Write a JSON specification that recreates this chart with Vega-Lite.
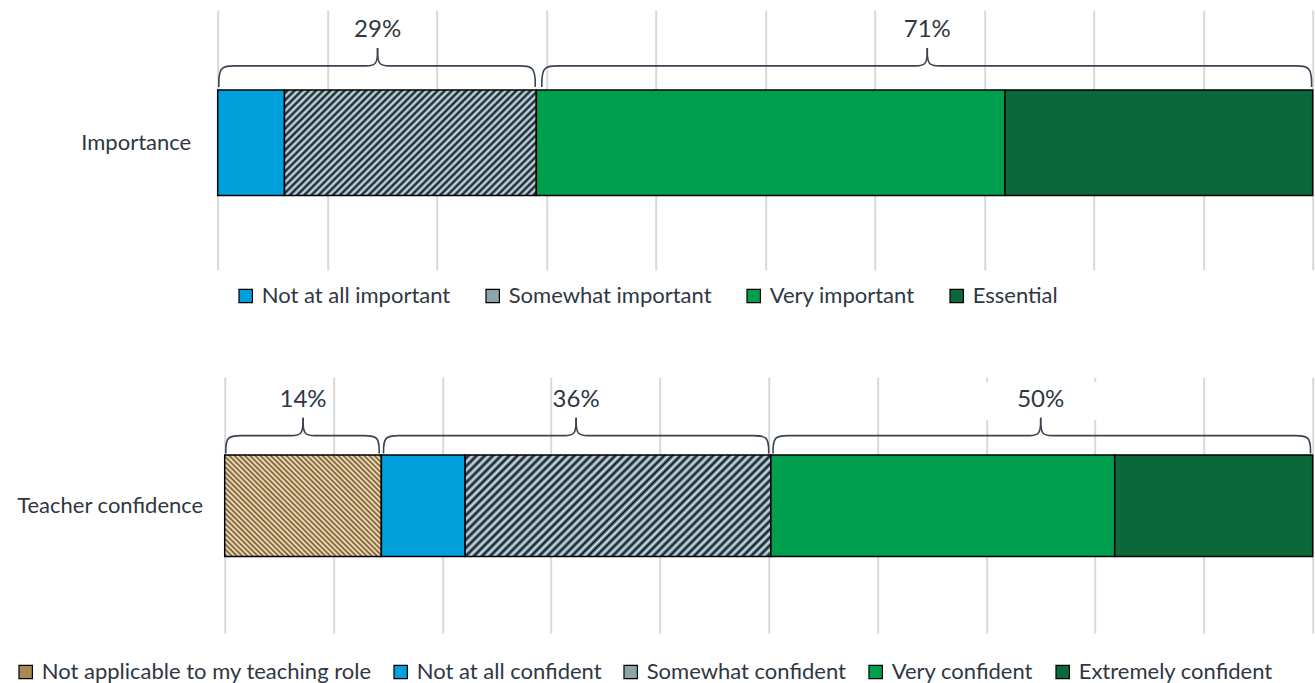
{
"$schema":"https://vega.github.io/schema/vega-lite/v6.json",
"autosize":{"type":"none"},
"padding":{"left":217.7,"top":10,"right":1097.3,"bottom":673},
"bounds":"flush",
"spacing":107,
"config":{"view":{"stroke":null},"font":"Lato","text":{"font":"Lato"},
"axisX":{"grid":true,"gridColor":"#D9D9D9","gridWidth":2,"labels":false,"ticks":false,"domain":false,"title":null}},
"datasets":{
"imp":[
{"question":"Importance","category":"Not at all important","value":6.1,"o":1},
{"question":"Importance","category":"Somewhat important","value":23.0,"o":2},
{"question":"Importance","category":"Very important","value":42.8,"o":3},
{"question":"Importance","category":"Essential","value":28.1,"o":4}
],
"conf":[
{"question":"Teacher confidence","category":"Not applicable to my teaching role","value":14.4,"o":1},
{"question":"Teacher confidence","category":"Not at all confident","value":7.7,"o":2},
{"question":"Teacher confidence","category":"Somewhat confident","value":28.1,"o":3},
{"question":"Teacher confidence","category":"Very confident","value":31.6,"o":4},
{"question":"Teacher confidence","category":"Extremely confident","value":18.2,"o":5}
],
"bracesTop":[
{"g":"a","o":1,"x":0.1,"y":70.4},{"g":"a","o":2,"x":0.1,"y":78.5},{"g":"a","o":3,"x":1.5,"y":78.5},{"g":"a","o":4,"x":2.9,"y":78.5},{"g":"a","o":5,"x":12.4,"y":78.5},{"g":"a","o":6,"x":13.5,"y":78.5},{"g":"a","o":7,"x":14.6,"y":78.5},{"g":"a","o":8,"x":14.6,"y":85.4},
{"g":"b","o":1,"x":29.0,"y":70.4},{"g":"b","o":2,"x":29.0,"y":78.5},{"g":"b","o":3,"x":27.6,"y":78.5},{"g":"b","o":4,"x":26.2,"y":78.5},{"g":"b","o":5,"x":16.8,"y":78.5},{"g":"b","o":6,"x":15.7,"y":78.5},{"g":"b","o":7,"x":14.6,"y":78.5},{"g":"b","o":8,"x":14.6,"y":85.4},
{"g":"c","o":1,"x":29.6,"y":70.4},{"g":"c","o":2,"x":29.6,"y":78.5},{"g":"c","o":3,"x":31.0,"y":78.5},{"g":"c","o":4,"x":32.4,"y":78.5},{"g":"c","o":5,"x":62.6,"y":78.5},{"g":"c","o":6,"x":63.7,"y":78.5},{"g":"c","o":7,"x":64.8,"y":78.5},{"g":"c","o":8,"x":64.8,"y":85.4},
{"g":"d","o":1,"x":99.9,"y":70.4},{"g":"d","o":2,"x":99.9,"y":78.5},{"g":"d","o":3,"x":98.5,"y":78.5},{"g":"d","o":4,"x":97.1,"y":78.5},{"g":"d","o":5,"x":67.0,"y":78.5},{"g":"d","o":6,"x":65.9,"y":78.5},{"g":"d","o":7,"x":64.8,"y":78.5},{"g":"d","o":8,"x":64.8,"y":85.4}
],
"bracesBot":[
{"g":"a","o":1,"x":0.1,"y":70.1},{"g":"a","o":2,"x":0.1,"y":77.1},{"g":"a","o":3,"x":1.5,"y":77.1},{"g":"a","o":4,"x":2.9,"y":77.1},{"g":"a","o":5,"x":5.0,"y":77.1},{"g":"a","o":6,"x":6.1,"y":77.1},{"g":"a","o":7,"x":7.2,"y":77.1},{"g":"a","o":8,"x":7.2,"y":84.1},
{"g":"b","o":1,"x":14.2,"y":70.1},{"g":"b","o":2,"x":14.2,"y":77.1},{"g":"b","o":3,"x":12.8,"y":77.1},{"g":"b","o":4,"x":11.4,"y":77.1},{"g":"b","o":5,"x":9.4,"y":77.1},{"g":"b","o":6,"x":8.3,"y":77.1},{"g":"b","o":7,"x":7.2,"y":77.1},{"g":"b","o":8,"x":7.2,"y":84.1},
{"g":"c","o":1,"x":14.6,"y":70.1},{"g":"c","o":2,"x":14.6,"y":77.1},{"g":"c","o":3,"x":16.0,"y":77.1},{"g":"c","o":4,"x":17.4,"y":77.1},{"g":"c","o":5,"x":30.1,"y":77.1},{"g":"c","o":6,"x":31.2,"y":77.1},{"g":"c","o":7,"x":32.3,"y":77.1},{"g":"c","o":8,"x":32.3,"y":84.1},
{"g":"d","o":1,"x":50.0,"y":70.1},{"g":"d","o":2,"x":50.0,"y":77.1},{"g":"d","o":3,"x":48.6,"y":77.1},{"g":"d","o":4,"x":47.2,"y":77.1},{"g":"d","o":5,"x":34.5,"y":77.1},{"g":"d","o":6,"x":33.4,"y":77.1},{"g":"d","o":7,"x":32.3,"y":77.1},{"g":"d","o":8,"x":32.3,"y":84.1},
{"g":"e","o":1,"x":50.4,"y":70.1},{"g":"e","o":2,"x":50.4,"y":77.1},{"g":"e","o":3,"x":51.8,"y":77.1},{"g":"e","o":4,"x":53.2,"y":77.1},{"g":"e","o":5,"x":72.8,"y":77.1},{"g":"e","o":6,"x":73.9,"y":77.1},{"g":"e","o":7,"x":75.0,"y":77.1},{"g":"e","o":8,"x":75.0,"y":84.1},
{"g":"f","o":1,"x":99.8,"y":70.1},{"g":"f","o":2,"x":99.8,"y":77.1},{"g":"f","o":3,"x":98.4,"y":77.1},{"g":"f","o":4,"x":97.0,"y":77.1},{"g":"f","o":5,"x":77.2,"y":77.1},{"g":"f","o":6,"x":76.1,"y":77.1},{"g":"f","o":7,"x":75.0,"y":77.1},{"g":"f","o":8,"x":75.0,"y":84.1}
],
"labelsTop":[{"x":14.6,"y":92.3,"label":"29%"},{"x":64.8,"y":92.3,"label":"71%"}],
"labelsBot":[{"x":7.2,"y":91.0,"label":"14%"},{"x":32.3,"y":91.0,"label":"36%"},{"x":75.0,"y":91.0,"label":"50%"}],
"boxBot":[{"x":69.9,"x2":80.3,"y":83.2,"y2":98.0}]
},
"resolve":{"scale":{"color":"independent"},"legend":{"color":"independent"}},
"vconcat":[
{
"width":1095,"height":260,
"resolve":{"scale":{"y":"independent"}},
"layer":[
{"data":{"name":"imp"},
"mark":{"type":"bar","stroke":"#000","strokeWidth":1.5},
"encoding":{
"y":{"field":"question","type":"nominal","title":null,"scale":{"paddingInner":0,"paddingOuter":0.73,"align":0.518},"axis":{"domain":false,"ticks":false,"tickSize":0,"labelPadding":27,"labelFont":"Lato","labelFontSize":22,"labelColor":"#2E3742","labelLimit":400,"grid":false}},
"x":{"field":"value","type":"quantitative","stack":"zero","scale":{"domain":[0,100],"nice":false},"title":null,"axis":{"values":[0,10,20,30,40,50,60,70,80,90,100]}},
"color":{
"condition":[{"test":"datum.category==='Somewhat important'","value":
{"gradient":"linear","x1":0,"y1":0,"x2":1.207,"y2":0.508,"stops":[{"offset":0,"color":"#CEF"},{"offset":0.01,"color":"#111"},{"offset":0.02,"color":"#CEF"},{"offset":0.03,"color":"#111"},{"offset":0.04,"color":"#CEF"},{"offset":0.05,"color":"#111"},{"offset":0.06,"color":"#CEF"},{"offset":0.07,"color":"#111"},{"offset":0.08,"color":"#CEF"},{"offset":0.09,"color":"#111"},{"offset":0.1,"color":"#CEF"},{"offset":0.11,"color":"#111"},{"offset":0.12,"color":"#CEF"},{"offset":0.13,"color":"#111"},{"offset":0.14,"color":"#CEF"},{"offset":0.15,"color":"#111"},{"offset":0.16,"color":"#CEF"},{"offset":0.17,"color":"#111"},{"offset":0.18,"color":"#CEF"},{"offset":0.19,"color":"#111"},{"offset":0.2,"color":"#CEF"},{"offset":0.21,"color":"#111"},{"offset":0.22,"color":"#CEF"},{"offset":0.23,"color":"#111"},{"offset":0.24,"color":"#CEF"},{"offset":0.25,"color":"#111"},{"offset":0.26,"color":"#CEF"},{"offset":0.27,"color":"#111"},{"offset":0.28,"color":"#CEF"},{"offset":0.29,"color":"#111"},{"offset":0.3,"color":"#CEF"},{"offset":0.31,"color":"#111"},{"offset":0.32,"color":"#CEF"},{"offset":0.33,"color":"#111"},{"offset":0.34,"color":"#CEF"},{"offset":0.35,"color":"#111"},{"offset":0.36,"color":"#CEF"},{"offset":0.37,"color":"#111"},{"offset":0.38,"color":"#CEF"},{"offset":0.39,"color":"#111"},{"offset":0.4,"color":"#CEF"},{"offset":0.41,"color":"#111"},{"offset":0.42,"color":"#CEF"},{"offset":0.43,"color":"#111"},{"offset":0.44,"color":"#CEF"},{"offset":0.45,"color":"#111"},{"offset":0.46,"color":"#CEF"},{"offset":0.47,"color":"#111"},{"offset":0.48,"color":"#CEF"},{"offset":0.49,"color":"#111"},{"offset":0.5,"color":"#CEF"},{"offset":0.51,"color":"#111"},{"offset":0.52,"color":"#CEF"},{"offset":0.53,"color":"#111"},{"offset":0.54,"color":"#CEF"},{"offset":0.55,"color":"#111"},{"offset":0.56,"color":"#CEF"},{"offset":0.57,"color":"#111"},{"offset":0.58,"color":"#CEF"},{"offset":0.59,"color":"#111"},{"offset":0.6,"color":"#CEF"},{"offset":0.61,"color":"#111"},{"offset":0.62,"color":"#CEF"},{"offset":0.63,"color":"#111"},{"offset":0.64,"color":"#CEF"},{"offset":0.65,"color":"#111"},{"offset":0.66,"color":"#CEF"},{"offset":0.67,"color":"#111"},{"offset":0.68,"color":"#CEF"},{"offset":0.69,"color":"#111"},{"offset":0.7,"color":"#CEF"},{"offset":0.71,"color":"#111"},{"offset":0.72,"color":"#CEF"},{"offset":0.73,"color":"#111"},{"offset":0.74,"color":"#CEF"},{"offset":0.75,"color":"#111"},{"offset":0.76,"color":"#CEF"},{"offset":0.77,"color":"#111"},{"offset":0.78,"color":"#CEF"},{"offset":0.79,"color":"#111"},{"offset":0.8,"color":"#CEF"},{"offset":0.81,"color":"#111"},{"offset":0.82,"color":"#CEF"},{"offset":0.83,"color":"#111"},{"offset":0.84,"color":"#CEF"},{"offset":0.85,"color":"#111"},{"offset":0.86,"color":"#CEF"},{"offset":0.87,"color":"#111"},{"offset":0.88,"color":"#CEF"},{"offset":0.89,"color":"#111"},{"offset":0.9,"color":"#CEF"},{"offset":0.91,"color":"#111"},{"offset":0.92,"color":"#CEF"},{"offset":0.93,"color":"#111"},{"offset":0.94,"color":"#CEF"},{"offset":0.95,"color":"#111"},{"offset":0.96,"color":"#CEF"},{"offset":0.97,"color":"#111"},{"offset":0.98,"color":"#CEF"},{"offset":0.99,"color":"#111"},{"offset":1,"color":"#CEF"}]}}],
"field":"category","type":"nominal",
"scale":{"domain":["Not at all important","Somewhat important","Very important","Essential"],
"range":["#00A0DC","#8FA3AE","#009F4E","#0A683B"]},
"legend":{"orient":"none","legendX":17,"legendY":275,"direction":"horizontal","title":null,"symbolType":"square","symbolSize":180,"symbolStrokeColor":"#000","symbolStrokeWidth":1.2,"symbolOpacity":1,"labelFont":"Lato","labelFontSize":22,"labelColor":"#2E3742","labelOffset":5,"columnPadding":31,"labelLimit":600}},
"order":{"field":"o","type":"quantitative"}
}},
{"data":{"name":"bracesTop"},
"mark":{"type":"line","interpolate":"basis","color":"#3A4350","strokeWidth":1.6},
"encoding":{
"x":{"field":"x","type":"quantitative","title":null,"axis":{"values":[0,10,20,30,40,50,60,70,80,90,100]}},
"y":{"field":"y","type":"quantitative","scale":{"domain":[0,100],"nice":false,"zero":false},"axis":null},
"detail":{"field":"g","type":"nominal"},
"order":{"field":"o","type":"quantitative"}
}},
{"data":{"name":"labelsTop"},
"mark":{"type":"text","font":"Lato","fontSize":24,"color":"#2E3742","align":"center","baseline":"middle"},
"encoding":{
"x":{"field":"x","type":"quantitative","title":null,"axis":{"values":[0,10,20,30,40,50,60,70,80,90,100]}},
"y":{"field":"y","type":"quantitative","scale":{"domain":[0,100],"nice":false,"zero":false},"axis":null},
"text":{"field":"label","type":"nominal"}
}}
]
},
{
"width":1095,"height":256,
"resolve":{"scale":{"y":"independent"}},
"layer":[
{"data":{"name":"conf"},
"mark":{"type":"bar","stroke":"#000","strokeWidth":1.5},
"encoding":{
"y":{"field":"question","type":"nominal","title":null,"scale":{"paddingInner":0,"paddingOuter":0.759,"align":0.505},"axis":{"domain":false,"ticks":false,"tickSize":0,"labelPadding":15,"labelFont":"Lato","labelFontSize":22,"labelColor":"#2E3742","labelLimit":400,"grid":false}},
"x":{"field":"value","type":"quantitative","stack":"zero","scale":{"domain":[0,100],"nice":false,"range":[7,1095]},"title":null,"axis":{"values":[0,10,20,30,40,50,60,70,80,90,100]}},
"color":{
"condition":[
{"test":"datum.category==='Not applicable to my teaching role'","value":
{"gradient":"linear","x1":0,"y1":1,"x2":1.159,"y2":0.242,"stops":[{"offset":0,"color":"#F5EDDC"},{"offset":0.01,"color":"#7A5518"},{"offset":0.02,"color":"#F5EDDC"},{"offset":0.03,"color":"#7A5518"},{"offset":0.04,"color":"#F5EDDC"},{"offset":0.05,"color":"#7A5518"},{"offset":0.06,"color":"#F5EDDC"},{"offset":0.07,"color":"#7A5518"},{"offset":0.08,"color":"#F5EDDC"},{"offset":0.09,"color":"#7A5518"},{"offset":0.1,"color":"#F5EDDC"},{"offset":0.11,"color":"#7A5518"},{"offset":0.12,"color":"#F5EDDC"},{"offset":0.13,"color":"#7A5518"},{"offset":0.14,"color":"#F5EDDC"},{"offset":0.15,"color":"#7A5518"},{"offset":0.16,"color":"#F5EDDC"},{"offset":0.17,"color":"#7A5518"},{"offset":0.18,"color":"#F5EDDC"},{"offset":0.19,"color":"#7A5518"},{"offset":0.2,"color":"#F5EDDC"},{"offset":0.21,"color":"#7A5518"},{"offset":0.22,"color":"#F5EDDC"},{"offset":0.23,"color":"#7A5518"},{"offset":0.24,"color":"#F5EDDC"},{"offset":0.25,"color":"#7A5518"},{"offset":0.26,"color":"#F5EDDC"},{"offset":0.27,"color":"#7A5518"},{"offset":0.28,"color":"#F5EDDC"},{"offset":0.29,"color":"#7A5518"},{"offset":0.3,"color":"#F5EDDC"},{"offset":0.31,"color":"#7A5518"},{"offset":0.32,"color":"#F5EDDC"},{"offset":0.33,"color":"#7A5518"},{"offset":0.34,"color":"#F5EDDC"},{"offset":0.35,"color":"#7A5518"},{"offset":0.36,"color":"#F5EDDC"},{"offset":0.37,"color":"#7A5518"},{"offset":0.38,"color":"#F5EDDC"},{"offset":0.39,"color":"#7A5518"},{"offset":0.4,"color":"#F5EDDC"},{"offset":0.41,"color":"#7A5518"},{"offset":0.42,"color":"#F5EDDC"},{"offset":0.43,"color":"#7A5518"},{"offset":0.44,"color":"#F5EDDC"},{"offset":0.45,"color":"#7A5518"},{"offset":0.46,"color":"#F5EDDC"},{"offset":0.47,"color":"#7A5518"},{"offset":0.48,"color":"#F5EDDC"},{"offset":0.49,"color":"#7A5518"},{"offset":0.5,"color":"#F5EDDC"},{"offset":0.51,"color":"#7A5518"},{"offset":0.52,"color":"#F5EDDC"},{"offset":0.53,"color":"#7A5518"},{"offset":0.54,"color":"#F5EDDC"},{"offset":0.55,"color":"#7A5518"},{"offset":0.56,"color":"#F5EDDC"},{"offset":0.57,"color":"#7A5518"},{"offset":0.58,"color":"#F5EDDC"},{"offset":0.59,"color":"#7A5518"},{"offset":0.6,"color":"#F5EDDC"},{"offset":0.61,"color":"#7A5518"},{"offset":0.62,"color":"#F5EDDC"},{"offset":0.63,"color":"#7A5518"},{"offset":0.64,"color":"#F5EDDC"},{"offset":0.65,"color":"#7A5518"},{"offset":0.66,"color":"#F5EDDC"},{"offset":0.67,"color":"#7A5518"},{"offset":0.68,"color":"#F5EDDC"},{"offset":0.69,"color":"#7A5518"},{"offset":0.7,"color":"#F5EDDC"},{"offset":0.71,"color":"#7A5518"},{"offset":0.72,"color":"#F5EDDC"},{"offset":0.73,"color":"#7A5518"},{"offset":0.74,"color":"#F5EDDC"},{"offset":0.75,"color":"#7A5518"},{"offset":0.76,"color":"#F5EDDC"},{"offset":0.77,"color":"#7A5518"},{"offset":0.78,"color":"#F5EDDC"},{"offset":0.79,"color":"#7A5518"},{"offset":0.8,"color":"#F5EDDC"},{"offset":0.81,"color":"#7A5518"},{"offset":0.82,"color":"#F5EDDC"},{"offset":0.83,"color":"#7A5518"},{"offset":0.84,"color":"#F5EDDC"},{"offset":0.85,"color":"#7A5518"},{"offset":0.86,"color":"#F5EDDC"},{"offset":0.87,"color":"#7A5518"},{"offset":0.88,"color":"#F5EDDC"},{"offset":0.89,"color":"#7A5518"},{"offset":0.9,"color":"#F5EDDC"},{"offset":0.91,"color":"#7A5518"},{"offset":0.92,"color":"#F5EDDC"},{"offset":0.93,"color":"#7A5518"},{"offset":0.94,"color":"#F5EDDC"},{"offset":0.95,"color":"#7A5518"},{"offset":0.96,"color":"#F5EDDC"},{"offset":0.97,"color":"#7A5518"},{"offset":0.98,"color":"#F5EDDC"},{"offset":0.99,"color":"#7A5518"},{"offset":1,"color":"#F5EDDC"}]}},
{"test":"datum.category==='Somewhat confident'","value":
{"gradient":"linear","x1":0,"y1":0,"x2":1.2,"y2":0.4,"stops":[{"offset":0,"color":"#CEF"},{"offset":0.01,"color":"#111"},{"offset":0.02,"color":"#CEF"},{"offset":0.03,"color":"#111"},{"offset":0.04,"color":"#CEF"},{"offset":0.05,"color":"#111"},{"offset":0.06,"color":"#CEF"},{"offset":0.07,"color":"#111"},{"offset":0.08,"color":"#CEF"},{"offset":0.09,"color":"#111"},{"offset":0.1,"color":"#CEF"},{"offset":0.11,"color":"#111"},{"offset":0.12,"color":"#CEF"},{"offset":0.13,"color":"#111"},{"offset":0.14,"color":"#CEF"},{"offset":0.15,"color":"#111"},{"offset":0.16,"color":"#CEF"},{"offset":0.17,"color":"#111"},{"offset":0.18,"color":"#CEF"},{"offset":0.19,"color":"#111"},{"offset":0.2,"color":"#CEF"},{"offset":0.21,"color":"#111"},{"offset":0.22,"color":"#CEF"},{"offset":0.23,"color":"#111"},{"offset":0.24,"color":"#CEF"},{"offset":0.25,"color":"#111"},{"offset":0.26,"color":"#CEF"},{"offset":0.27,"color":"#111"},{"offset":0.28,"color":"#CEF"},{"offset":0.29,"color":"#111"},{"offset":0.3,"color":"#CEF"},{"offset":0.31,"color":"#111"},{"offset":0.32,"color":"#CEF"},{"offset":0.33,"color":"#111"},{"offset":0.34,"color":"#CEF"},{"offset":0.35,"color":"#111"},{"offset":0.36,"color":"#CEF"},{"offset":0.37,"color":"#111"},{"offset":0.38,"color":"#CEF"},{"offset":0.39,"color":"#111"},{"offset":0.4,"color":"#CEF"},{"offset":0.41,"color":"#111"},{"offset":0.42,"color":"#CEF"},{"offset":0.43,"color":"#111"},{"offset":0.44,"color":"#CEF"},{"offset":0.45,"color":"#111"},{"offset":0.46,"color":"#CEF"},{"offset":0.47,"color":"#111"},{"offset":0.48,"color":"#CEF"},{"offset":0.49,"color":"#111"},{"offset":0.5,"color":"#CEF"},{"offset":0.51,"color":"#111"},{"offset":0.52,"color":"#CEF"},{"offset":0.53,"color":"#111"},{"offset":0.54,"color":"#CEF"},{"offset":0.55,"color":"#111"},{"offset":0.56,"color":"#CEF"},{"offset":0.57,"color":"#111"},{"offset":0.58,"color":"#CEF"},{"offset":0.59,"color":"#111"},{"offset":0.6,"color":"#CEF"},{"offset":0.61,"color":"#111"},{"offset":0.62,"color":"#CEF"},{"offset":0.63,"color":"#111"},{"offset":0.64,"color":"#CEF"},{"offset":0.65,"color":"#111"},{"offset":0.66,"color":"#CEF"},{"offset":0.67,"color":"#111"},{"offset":0.68,"color":"#CEF"},{"offset":0.69,"color":"#111"},{"offset":0.7,"color":"#CEF"},{"offset":0.71,"color":"#111"},{"offset":0.72,"color":"#CEF"},{"offset":0.73,"color":"#111"},{"offset":0.74,"color":"#CEF"},{"offset":0.75,"color":"#111"},{"offset":0.76,"color":"#CEF"},{"offset":0.77,"color":"#111"},{"offset":0.78,"color":"#CEF"},{"offset":0.79,"color":"#111"},{"offset":0.8,"color":"#CEF"},{"offset":0.81,"color":"#111"},{"offset":0.82,"color":"#CEF"},{"offset":0.83,"color":"#111"},{"offset":0.84,"color":"#CEF"},{"offset":0.85,"color":"#111"},{"offset":0.86,"color":"#CEF"},{"offset":0.87,"color":"#111"},{"offset":0.88,"color":"#CEF"},{"offset":0.89,"color":"#111"},{"offset":0.9,"color":"#CEF"},{"offset":0.91,"color":"#111"},{"offset":0.92,"color":"#CEF"},{"offset":0.93,"color":"#111"},{"offset":0.94,"color":"#CEF"},{"offset":0.95,"color":"#111"},{"offset":0.96,"color":"#CEF"},{"offset":0.97,"color":"#111"},{"offset":0.98,"color":"#CEF"},{"offset":0.99,"color":"#111"},{"offset":1,"color":"#CEF"}]}}],
"field":"category","type":"nominal",
"scale":{"domain":["Not applicable to my teaching role","Not at all confident","Somewhat confident","Very confident","Extremely confident"],
"range":["#A88A55","#00A0DC","#8FA3AE","#009F4E","#0A683B"]},
"legend":{"orient":"none","legendX":-203,"legendY":284,"direction":"horizontal","title":null,"symbolType":"square","symbolSize":180,"symbolStrokeColor":"#000","symbolStrokeWidth":1.2,"symbolOpacity":1,"labelFont":"Lato","labelFontSize":22,"labelColor":"#2E3742","labelOffset":5,"columnPadding":18,"labelLimit":600}},
"order":{"field":"o","type":"quantitative"}
}},
{"data":{"name":"boxBot"},
"mark":{"type":"rect","fill":"#FFFFFF"},
"encoding":{
"x":{"field":"x","type":"quantitative","title":null,"axis":{"values":[0,10,20,30,40,50,60,70,80,90,100]}},
"x2":{"field":"x2"},
"y":{"field":"y","type":"quantitative","scale":{"domain":[0,100],"nice":false,"zero":false},"axis":null},
"y2":{"field":"y2"}
}},
{"data":{"name":"bracesBot"},
"mark":{"type":"line","interpolate":"basis","color":"#3A4350","strokeWidth":1.6},
"encoding":{
"x":{"field":"x","type":"quantitative","title":null,"axis":{"values":[0,10,20,30,40,50,60,70,80,90,100]}},
"y":{"field":"y","type":"quantitative","scale":{"domain":[0,100],"nice":false,"zero":false},"axis":null},
"detail":{"field":"g","type":"nominal"},
"order":{"field":"o","type":"quantitative"}
}},
{"data":{"name":"labelsBot"},
"mark":{"type":"text","font":"Lato","fontSize":24,"color":"#2E3742","align":"center","baseline":"middle"},
"encoding":{
"x":{"field":"x","type":"quantitative","title":null,"axis":{"values":[0,10,20,30,40,50,60,70,80,90,100]}},
"y":{"field":"y","type":"quantitative","scale":{"domain":[0,100],"nice":false,"zero":false},"axis":null},
"text":{"field":"label","type":"nominal"}
}}
]
}
]
}
